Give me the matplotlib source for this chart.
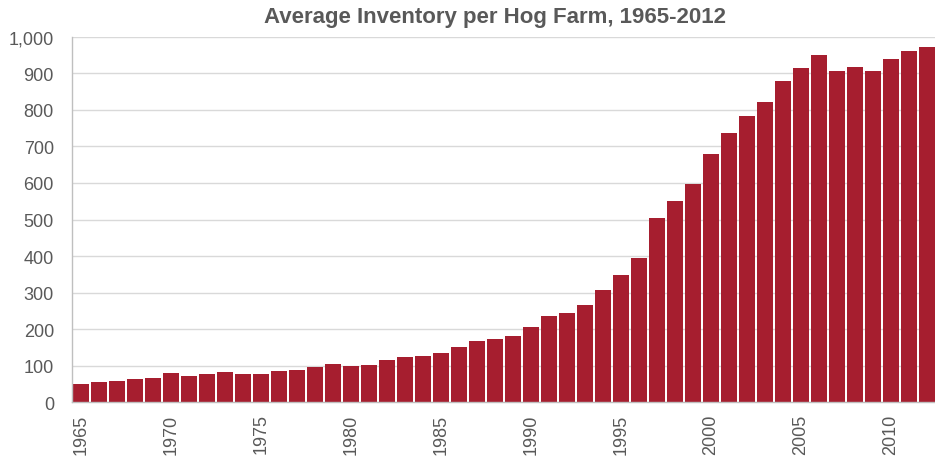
import matplotlib.pyplot as plt
from matplotlib.ticker import FuncFormatter

plt.rcParams['font.family'] = ['Liberation Sans', 'DejaVu Sans']

years = list(range(1965, 2013))
inventory = [49, 55, 58, 65, 67, 79, 73, 77, 84, 77,
             77, 86, 89, 97, 105, 99, 103, 116, 124, 128,
             136, 150, 167, 174, 181, 206, 236, 244, 267, 307,
             348, 395, 503, 550, 598, 678, 737, 783, 822, 880,
             915, 950, 906, 918, 907, 939, 961, 971]
tick_years = [1965, 1970, 1975, 1980, 1985, 1990, 1995, 2000, 2005, 2010]

bar_color = '#A61E2F'
text_color = '#595959'

fig = plt.figure(figsize=(9.35, 4.6), dpi=100)
ax = fig.add_axes([72 / 935, 56.7 / 460, 864 / 935, 365.6 / 460])

pos = list(range(len(years)))
ax.bar(pos, inventory, width=0.88, color=bar_color, zorder=3)

ax.set_xlim(-0.5, len(years) - 0.5)
ax.set_ylim(0, 1000)
ax.set_yticks(range(0, 1001, 100))
ax.yaxis.set_major_formatter(FuncFormatter(lambda v, p: f'{int(v):,}'))
ax.set_xticks([years.index(y) for y in tick_years])
ax.set_xticklabels([str(y) for y in tick_years], rotation=90, va='top')

ax.tick_params(axis='y', length=0, pad=13, labelsize=13, labelcolor=text_color)
ax.tick_params(axis='x', length=0, pad=8, labelsize=13, labelcolor=text_color)

ax.grid(axis='y', color='#d9d9d9', linewidth=1, zorder=0)
for side in ['top', 'right']:
    ax.spines[side].set_visible(False)
for side in ['left', 'bottom']:
    ax.spines[side].set_color('#bfbfbf')
    ax.spines[side].set_linewidth(1)
    ax.spines[side].set_zorder(4)

fig.text(495 / 935, 1 - 17.5 / 460, 'Average Inventory per Hog Farm, 1965-2012',
         ha='center', va='center', fontsize=16, fontweight='bold', color=text_color)

plt.savefig('out.png', dpi=100)
